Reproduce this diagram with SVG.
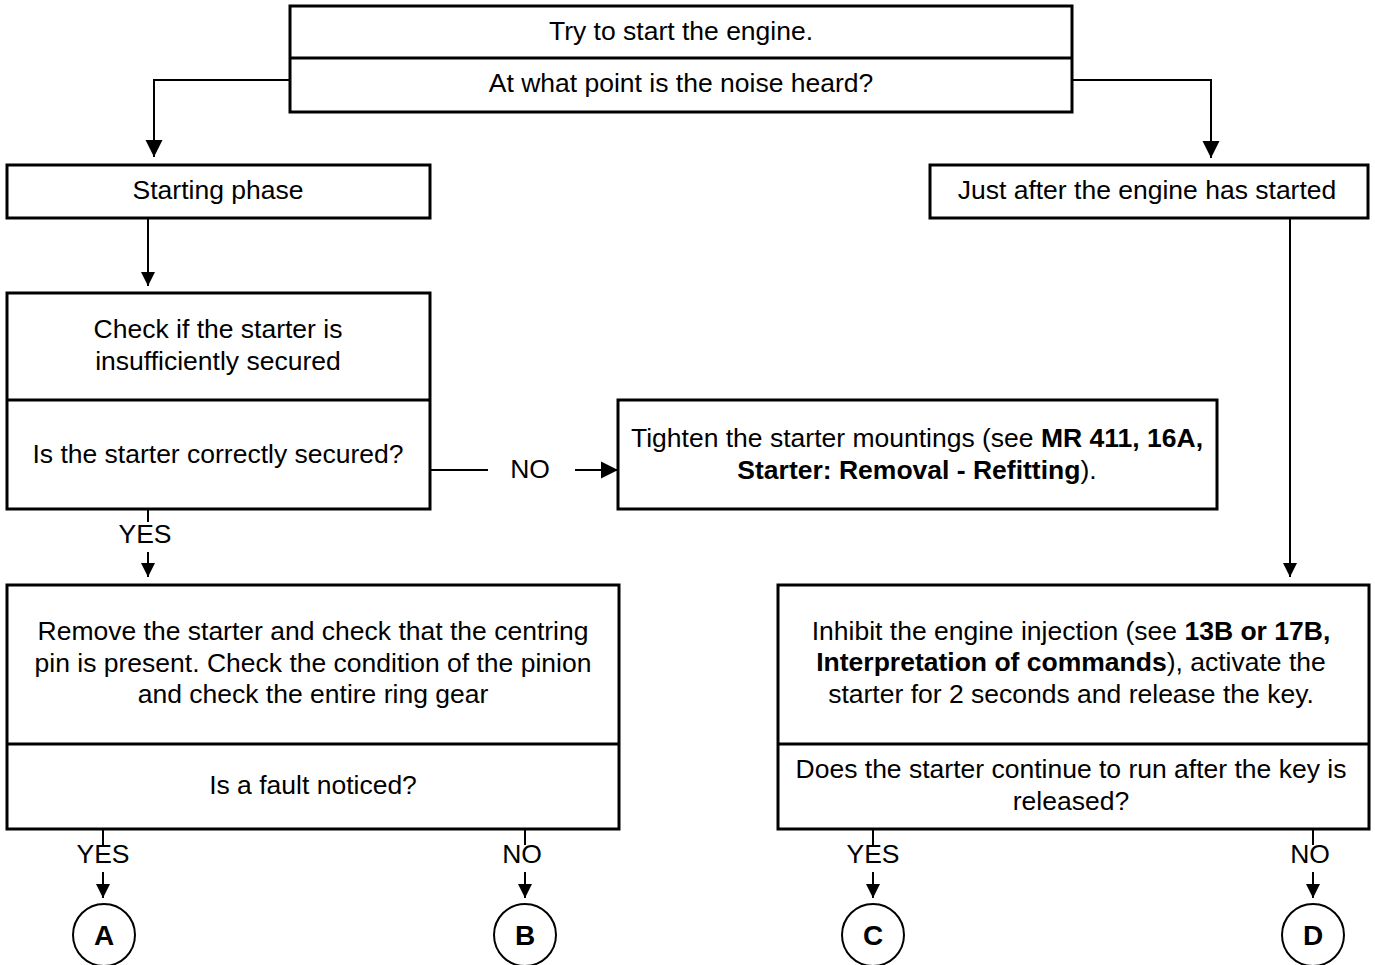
<svg xmlns="http://www.w3.org/2000/svg" width="1375" height="965" viewBox="0 0 1375 965">
<style>
.box{fill:#fff;stroke:#000;stroke-width:3}
.div{stroke:#000;stroke-width:3}
.c{fill:none;stroke:#000;stroke-width:2}
text{font-family:"Liberation Sans",Arial,sans-serif;font-size:26.5px;fill:#000;text-anchor:middle}
.b{font-weight:bold}
.circ{fill:#fff;stroke:#000;stroke-width:2}
.letter{font-weight:bold;font-size:28px}
</style>
<defs>
<marker id="big" viewBox="0 0 10 10" refX="10" refY="5" markerWidth="17" markerHeight="20" markerUnits="userSpaceOnUse" orient="auto"><path d="M0,0 L10,5 L0,10 z" fill="#000"/></marker>
<marker id="small" viewBox="0 0 10 10" refX="10" refY="5" markerWidth="14" markerHeight="14" markerUnits="userSpaceOnUse" orient="auto"><path d="M0,0 L10,5 L0,10 z" fill="#000"/></marker>
</defs>
<rect width="1375" height="965" fill="#fff"/>
<g id="connectors">
<path class="c" d="M290,80 H154 V157" marker-end="url(#big)"/>
<path class="c" d="M1072,80 H1211 V158" marker-end="url(#big)"/>
<path class="c" d="M148,218 V286" marker-end="url(#small)"/>
<path class="c" d="M1290,218 V577" marker-end="url(#small)"/>
<path class="c" d="M430,470 H488"/>
<path class="c" d="M575,470 H618" marker-end="url(#big)"/>
<text x="530" y="478">NO</text>
<path class="c" d="M148,509 V522"/>
<path class="c" d="M148,552 V577" marker-end="url(#small)"/>
<text x="145" y="543">YES</text>
<path class="c" d="M103,829 V845"/>
<path class="c" d="M103,872 V898" marker-end="url(#small)"/>
<text x="103" y="863">YES</text>
<path class="c" d="M525,829 V845"/>
<path class="c" d="M525,872 V898" marker-end="url(#small)"/>
<text x="522" y="863">NO</text>
<path class="c" d="M873,829 V845"/>
<path class="c" d="M873,872 V898" marker-end="url(#small)"/>
<text x="873" y="863">YES</text>
<path class="c" d="M1313,829 V845"/>
<path class="c" d="M1313,872 V898" marker-end="url(#small)"/>
<text x="1310" y="863">NO</text>
</g>
<g id="start">
<rect class="box" x="290" y="6" width="782" height="106"/>
<line class="div" x1="290" y1="58" x2="1072" y2="58"/>
<text x="681" y="40">Try to start the engine.</text>
<text x="681" y="92">At what point is the noise heard?</text>
</g>
<g id="starting-phase">
<rect class="box" x="7" y="165" width="423" height="53"/>
<text x="218" y="199">Starting phase</text>
</g>
<g id="just-after">
<rect class="box" x="930" y="165" width="438" height="53"/>
<text x="1147" y="199">Just after the engine has started</text>
</g>
<g id="check-secured">
<rect class="box" x="7" y="293" width="423" height="216"/>
<line class="div" x1="7" y1="400" x2="430" y2="400"/>
<text x="218" y="338">Check if the starter is</text>
<text x="218" y="370">insufficiently secured</text>
<text x="218" y="463">Is the starter correctly secured?</text>
</g>
<g id="tighten">
<rect class="box" x="618" y="400" width="599" height="109"/>
<text x="917" y="447">Tighten the starter mountings (see <tspan class="b">MR 411, 16A,</tspan></text>
<text x="917" y="479"><tspan class="b">Starter: Removal - Refitting</tspan>).</text>
</g>
<g id="remove">
<rect class="box" x="7" y="585" width="612" height="244"/>
<line class="div" x1="7" y1="744" x2="619" y2="744"/>
<text x="313" y="640">Remove the starter and check that the centring</text>
<text x="313" y="672">pin is present. Check the condition of the pinion</text>
<text x="313" y="703">and check the entire ring gear</text>
<text x="313" y="794">Is a fault noticed?</text>
</g>
<g id="inhibit">
<rect class="box" x="778" y="585" width="591" height="244"/>
<line class="div" x1="778" y1="744" x2="1369" y2="744"/>
<text x="1071" y="640">Inhibit the engine injection (see <tspan class="b">13B or 17B,</tspan></text>
<text x="1071" y="671"><tspan class="b">Interpretation of commands</tspan>), activate the</text>
<text x="1071" y="703">starter for 2 seconds and release the key.</text>
<text x="1071" y="778">Does the starter continue to run after the key is</text>
<text x="1071" y="810">released?</text>
</g>
<g id="A"><circle class="circ" cx="104" cy="935" r="31"/><text class="letter" x="104" y="945">A</text></g>
<g id="B"><circle class="circ" cx="525" cy="935" r="31"/><text class="letter" x="525" y="945">B</text></g>
<g id="C"><circle class="circ" cx="873" cy="935" r="31"/><text class="letter" x="873" y="945">C</text></g>
<g id="D"><circle class="circ" cx="1313" cy="935" r="31"/><text class="letter" x="1313" y="945">D</text></g>
</svg>
